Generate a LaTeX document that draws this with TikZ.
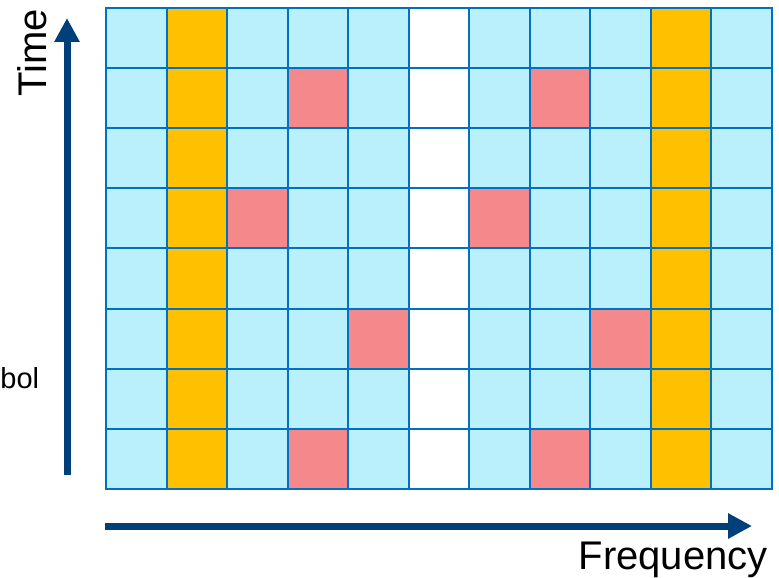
\documentclass[tikz,border=0pt]{standalone}
\usepackage{fontspec}
\setmainfont{Liberation Sans}
\usetikzlibrary{arrows.meta}

\definecolor{cellblue}{RGB}{185,240,252}
\definecolor{gridblue}{RGB}{0,112,192}
\definecolor{pilotgold}{RGB}{255,192,0}
\definecolor{datapink}{RGB}{244,136,138}
\definecolor{axisblue}{RGB}{0,64,122}

\tikzset{
  cell/.style={draw=gridblue,line width=1pt,minimum width=30.25pt,
    minimum height=30.05pt,inner sep=0pt,anchor=north west},
  axis/.style={draw=axisblue,line width=3.5pt,
    -{Triangle[width=12pt,length=12pt]}},
  axislabel/.style={font=\fontsize{20}{24}\selectfont,inner sep=0pt}
}

\begin{document}
\begin{tikzpicture}[x=0.5pt,y=-0.5pt]
\useasboundingbox (0,0) rectangle (779,577);

% resource grid, column by column
\foreach \c/\col in {0/cellblue,1/pilotgold,2/cellblue,3/cellblue,4/cellblue,
    5/white,6/cellblue,7/cellblue,8/cellblue,9/pilotgold,10/cellblue}
  \foreach \r in {0,...,7}
    \node[cell,fill=\col] (c-\c-\r) at (105+60.5*\c,7+60.1*\r) {};

% marked cells
\foreach \c/\r in {3/1,7/1,2/3,6/3,4/5,8/5,3/7,7/7}
  \node[cell,fill=datapink] (p-\c-\r) at (105+60.5*\c,7+60.1*\r) {};

% axes
\coordinate (t0) at (67,475);
\coordinate (t1) at (67,18);
\coordinate (f0) at (105,526);
\coordinate (f1) at (752,526);
\draw[axis] (t0) -- (t1);
\draw[axis] (f0) -- (f1);

\node[axislabel,rotate=90] (time) at (32,53) {Time};
\node[axislabel,anchor=base east] (freq) at (768,569) {Frequency};
\node[font=\fontsize{14.5}{17}\selectfont,anchor=base west,inner sep=0pt] (sym) at (0,388) {bol};
\end{tikzpicture}
\end{document}
